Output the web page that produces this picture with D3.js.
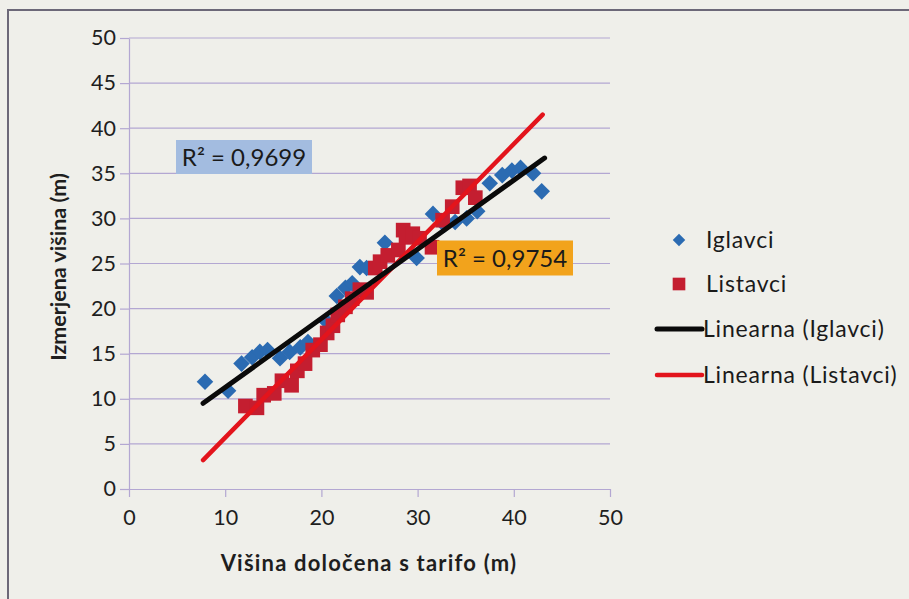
<!DOCTYPE html>
<html>
<head>
<meta charset="utf-8">
<script src="https://cdn.jsdelivr.net/npm/d3@7"></script>
<style>
  html, body { margin: 0; padding: 0; background: #efefea; }
  svg { display: block; }
  text { font-family: Lato, "Open Sans", sans-serif; }
</style>
</head>
<body>
<svg id="chart" width="909" height="599"></svg>
<script>
// ---- data ----
const iglavciX = [7.9, 10.3, 11.7, 12.8, 13.6, 14.4, 15.7, 16.7, 17.8, 18.6, 20.6, 21.6, 22.5, 23.2, 24.0, 24.7, 26.6, 29.9, 31.6, 32.8, 33.9, 35.1, 36.2, 37.5, 38.8, 39.8, 40.7, 42.0, 42.9];
const iglavciY = [11.9, 10.9, 13.9, 14.6, 15.2, 15.4, 14.5, 15.2, 15.7, 16.3, 18.5, 21.4, 22.3, 22.8, 24.6, 24.5, 27.3, 25.6, 30.5, 29.3, 29.6, 30.0, 30.8, 33.9, 34.8, 35.3, 35.6, 35.0, 33.0];
const listavciX = [12.1, 13.3, 14.0, 15.1, 15.9, 16.9, 17.5, 18.3, 19.1, 19.9, 20.6, 21.2, 21.7, 22.5, 23.2, 24.0, 24.7, 25.6, 26.1, 26.9, 28.0, 28.5, 28.8, 29.5, 30.2, 31.5, 32.6, 33.6, 34.7, 35.4, 36.0];
const listavciY = [9.2, 9.0, 10.4, 10.6, 12.0, 11.5, 13.1, 13.9, 15.4, 16.0, 17.3, 18.1, 19.3, 20.2, 21.1, 22.1, 21.8, 24.5, 25.2, 25.9, 26.5, 28.7, 27.9, 28.3, 27.8, 26.8, 29.8, 31.3, 33.4, 33.6, 32.3];
// linear trendlines (slope, intercept) and their x range
const trendIglavci = { slope: 0.766, intercept: 3.6, x0: 7.7, x1: 43.2 };
const trendListavci = { slope: 1.085, intercept: -5.15, x0: 7.7, x1: 43.0 };
const r2Labels = ["R² = 0,9699", "R² = 0,9754"];
const xTicks = [0, 10, 20, 30, 40, 50];
const yTicks = [0, 5, 10, 15, 20, 25, 30, 35, 40, 45, 50];
const legendLabels = ["Iglavci", "Listavci", "Linearna (Iglavci)", "Linearna (Listavci)"];
const xTitle = "Višina določena s tarifo (m)";
const yTitle = "Izmerjena višina (m)";

// ---- styles ----
const blue = "#2b6bb2", red = "#c41e30", redLine = "#e3141c", black = "#0a0a0a";
const grid = "#b3a7d2";

const svg = d3.select("#chart");
svg.append("rect").attr("width", 909).attr("height", 599).attr("fill", "#efefea");
// outer frame
svg.append("rect").attr("x", 8).attr("y", 10).attr("width", 910).attr("height", 600)
  .attr("fill", "none").attr("stroke", "#6c6878").attr("stroke-width", 2);

const x = d3.scaleLinear().domain([0, 50]).range([129, 610]);
const y = d3.scaleLinear().domain([0, 50]).range([489, 38]);

// gridlines
svg.append("g").selectAll("line").data(yTicks.filter(d => d > 0)).join("line")
  .attr("x1", x(0)).attr("x2", x(50)).attr("y1", d => y(d)).attr("y2", d => y(d))
  .attr("stroke", grid).attr("stroke-width", 1.2);

// y axis
const yAxis = svg.append("g").attr("transform", `translate(${x(0)},0)`)
  .call(d3.axisLeft(y).tickValues(yTicks).tickSize(9).tickPadding(4).tickSizeOuter(0));
yAxis.select(".domain").attr("stroke", grid).attr("stroke-width", 1.2);
yAxis.selectAll(".tick line").attr("stroke", grid).attr("stroke-width", 1.2);
yAxis.selectAll("text").attr("font-size", 21.5).attr("fill", "#1e1e1e").attr("font-family", "Lato, sans-serif");

// x axis
const xAxis = svg.append("g").attr("transform", `translate(0,${y(0)})`)
  .call(d3.axisBottom(x).tickValues(xTicks).tickSize(8).tickPadding(13).tickSizeOuter(0));
xAxis.select(".domain").attr("stroke", grid).attr("stroke-width", 1.2);
xAxis.selectAll(".tick line").attr("stroke", grid).attr("stroke-width", 1.2);
xAxis.selectAll("text").attr("font-size", 21.5).attr("fill", "#1e1e1e").attr("font-family", "Lato, sans-serif");

// axis titles
svg.append("text").attr("x", 369).attr("y", 571).attr("text-anchor", "middle")
  .attr("font-size", 22).attr("font-weight", "bold").attr("letter-spacing", 1.2).attr("fill", "#1e1e1e").text(xTitle);
svg.append("text").attr("transform", "translate(66,267) rotate(-90)").attr("text-anchor", "middle")
  .attr("font-size", 21.5).attr("font-weight", "bold").attr("fill", "#1e1e1e").text(yTitle);

// points
const diamond = d3.symbol().type(d3.symbolDiamond2).size(175);
const square = d3.symbol().type(d3.symbolSquare).size(215);
const ig = iglavciX.map((v, i) => [v, iglavciY[i]]);
const li = listavciX.map((v, i) => [v, listavciY[i]]);
svg.append("g").selectAll("path").data(ig).join("path")
  .attr("d", diamond).attr("transform", d => `translate(${x(d[0])},${y(d[1])})`).attr("fill", blue);
svg.append("g").selectAll("path").data(li).join("path")
  .attr("d", square).attr("transform", d => `translate(${x(d[0])},${y(d[1])})`).attr("fill", red);

// trendlines
function trendLine(t, color, w) {
  const pts = [t.x0, t.x1].map(v => [v, t.slope * v + t.intercept]);
  svg.append("line").attr("x1", x(pts[0][0])).attr("y1", y(pts[0][1]))
    .attr("x2", x(pts[1][0])).attr("y2", y(pts[1][1]))
    .attr("stroke", color).attr("stroke-width", w).attr("stroke-linecap", "round");
}
trendLine(trendListavci, redLine, 4.5);
trendLine(trendIglavci, black, 5);

// R² labels
function r2Box(cx, cy, w, h, fill, label) {
  svg.append("rect").attr("x", cx - w / 2).attr("y", cy - h / 2).attr("width", w).attr("height", h).attr("fill", fill);
  svg.append("text").attr("x", cx).attr("y", cy + 8.5).attr("text-anchor", "middle")
    .attr("font-size", 24).attr("fill", "#1a1a1a").text(label);
}
r2Box(244, 157, 136, 34, "#a3bce0", r2Labels[0]);
r2Box(505, 258, 136, 35, "#f2a31c", r2Labels[1]);

// legend
const lg = svg.append("g");
const ly = [240, 284, 329, 375];
lg.append("path").attr("d", d3.symbol().type(d3.symbolDiamond2).size(100)).attr("transform", `translate(679,${ly[0]})`).attr("fill", blue);
lg.append("path").attr("d", d3.symbol().type(d3.symbolSquare).size(160)).attr("transform", `translate(679,${ly[1]})`).attr("fill", red);
lg.append("line").attr("x1", 657).attr("x2", 702).attr("y1", ly[2]).attr("y2", ly[2]).attr("stroke", black).attr("stroke-width", 5).attr("stroke-linecap", "round");
lg.append("line").attr("x1", 657).attr("x2", 702).attr("y1", ly[3]).attr("y2", ly[3]).attr("stroke", redLine).attr("stroke-width", 4.5).attr("stroke-linecap", "round");
const lx = [706, 706, 703, 703];
legendLabels.forEach((t, i) => {
  lg.append("text").attr("x", lx[i]).attr("y", ly[i] + 8).attr("font-size", 23).attr("letter-spacing", 0.8).attr("fill", "#1a1a1a").text(t);
});
</script>
</body>
</html>
